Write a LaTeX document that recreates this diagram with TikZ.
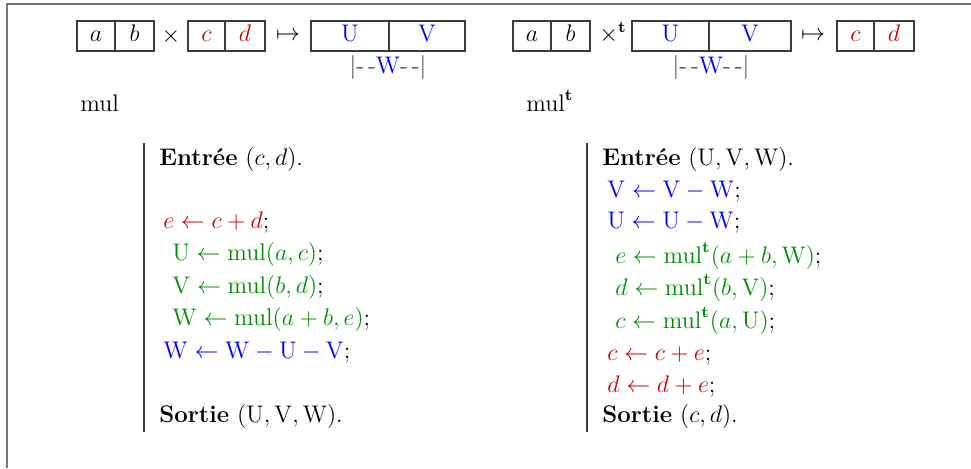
\documentclass[tikz,border=0pt]{standalone}
\usepackage{amsmath}
\definecolor{myred}{RGB}{195,0,0}
\definecolor{mygreen}{RGB}{0,140,0}
\definecolor{myblue}{RGB}{0,0,255}
\definecolor{framecol}{RGB}{120,120,120}
\definecolor{boxcol}{RGB}{60,60,60}
\begin{document}
\begin{tikzpicture}[x=0.5pt,y=-0.5pt, font=\fontsize{12}{14}\selectfont,
  cell/.style={draw=boxcol, line width=0.6pt, minimum height=15pt, inner sep=0pt,
    text height=8pt, text depth=2.5pt, anchor=center},
  sym/.style={inner sep=0pt, anchor=center},
  algline/.style={inner sep=0pt, anchor=base west},
  algrule/.style={draw=boxcol, line width=0.6pt}]
\useasboundingbox (0,0) rectangle (971,468);
\draw[framecol, line width=1pt] (7,468) -- (7,4) -- (971,4);

% ---- left header: mul
\node[cell, minimum width=19pt] (la) at (96,36) {$a$};
\node[cell, minimum width=19.5pt] (lb) at (134.5,36) {$b$};
\node[sym] (ltimes) at (171,36) {$\times$};
\node[cell, minimum width=18.5pt, text=myred] (lc) at (206.5,36) {$c$};
\node[cell, minimum width=20pt, text=myred] (ld) at (245,36) {$d$};
\node[sym] (lmap) at (288,36) {$\mapsto$};
\node[cell, minimum width=39pt, text=myblue] (lU) at (350,36) {$\mathrm{U}$};
\node[cell, minimum width=38pt, text=myblue] (lV) at (427,36) {$\mathrm{V}$};
\node[sym, text=boxcol] (lW) at (388,67) {|-\,-\textcolor{myblue}{W}-\,-|};
\node[algline] (lmul) at (80,111) {mul};

% ---- right header: mul^t
\node[cell, minimum width=19pt] (ra) at (532,36) {$a$};
\node[cell, minimum width=19.5pt] (rb) at (570.5,36) {$b$};
\node[sym] (rtimes) at (613,33) {$\times^{\mathbf{t}}$};
\node[cell, minimum width=38.5pt, text=myblue] (rU) at (670.5,36) {$\mathrm{U}$};
\node[cell, minimum width=41pt, text=myblue] (rV) at (750,36) {$\mathrm{V}$};
\node[sym] (rmap) at (813,36) {$\mapsto$};
\node[cell, minimum width=18.5pt, text=myred] (rc) at (855.5,36) {$c$};
\node[cell, minimum width=20pt, text=myred] (rd) at (894,36) {$d$};
\node[sym, text=boxcol] (rW) at (711,67) {|-\,-\textcolor{myblue}{W}-\,-|};
\node[algline] (rmul) at (526,111) {$\mathrm{mul}^{\mathbf{t}}$};

% ---- left algorithm
\coordinate (lrtop) at (144,143);
\coordinate (lrbot) at (144,432);
\draw[algrule] (lrtop) -- (lrbot);
\node[algline] (l1) at (159,165) {\textbf{Entrée} $(c,d)$.};
\node[algline, text=myred] (l2) at (163,228) {$e\leftarrow c+d$\textcolor{black}{;}};
\node[algline, text=mygreen] (l3) at (172,260) {$\mathrm{U}\leftarrow\mathrm{mul}(a,c)$\textcolor{black}{;}};
\node[algline, text=mygreen] (l4) at (172,293) {$\mathrm{V}\leftarrow\mathrm{mul}(b,d)$\textcolor{black}{;}};
\node[algline, text=mygreen] (l5) at (172,325) {$\mathrm{W}\leftarrow\mathrm{mul}(a+b,e)$\textcolor{black}{;}};
\node[algline, text=myblue] (l6) at (163,358) {$\mathrm{W}\leftarrow\mathrm{W}-\mathrm{U}-\mathrm{V}$\textcolor{black}{;}};
\node[algline] (l7) at (159,422) {\textbf{Sortie} $(\mathrm{U},\mathrm{V},\mathrm{W})$.};

% ---- right algorithm
\coordinate (rrtop) at (587,143);
\coordinate (rrbot) at (587,432);
\draw[algrule] (rrtop) -- (rrbot);
\node[algline] (r1) at (602,165) {\textbf{Entrée} $(\mathrm{U},\mathrm{V},\mathrm{W})$.};
\node[algline, text=myblue] (r2) at (607,197) {$\mathrm{V}\leftarrow\mathrm{V}-\mathrm{W}$\textcolor{black}{;}};
\node[algline, text=myblue] (r3) at (607,228) {$\mathrm{U}\leftarrow\mathrm{U}-\mathrm{W}$\textcolor{black}{;}};
\node[algline, text=mygreen] (r4) at (615,263) {$e\leftarrow\mathrm{mul}^{\mathbf{t}}(a+b,\mathrm{W})$\textcolor{black}{;}};
\node[algline, text=mygreen] (r5) at (615,295) {$d\leftarrow\mathrm{mul}^{\mathbf{t}}(b,\mathrm{V})$\textcolor{black}{;}};
\node[algline, text=mygreen] (r6) at (615,328) {$c\leftarrow\mathrm{mul}^{\mathbf{t}}(a,\mathrm{U})$\textcolor{black}{;}};
\node[algline, text=myred] (r7) at (607,360) {$c\leftarrow c+e$\textcolor{black}{;}};
\node[algline, text=myred] (r8) at (607,392) {$d\leftarrow d+e$\textcolor{black}{;}};
\node[algline] (r9) at (602,422) {\textbf{Sortie} $(c,d)$.};
\end{tikzpicture}
\end{document}
